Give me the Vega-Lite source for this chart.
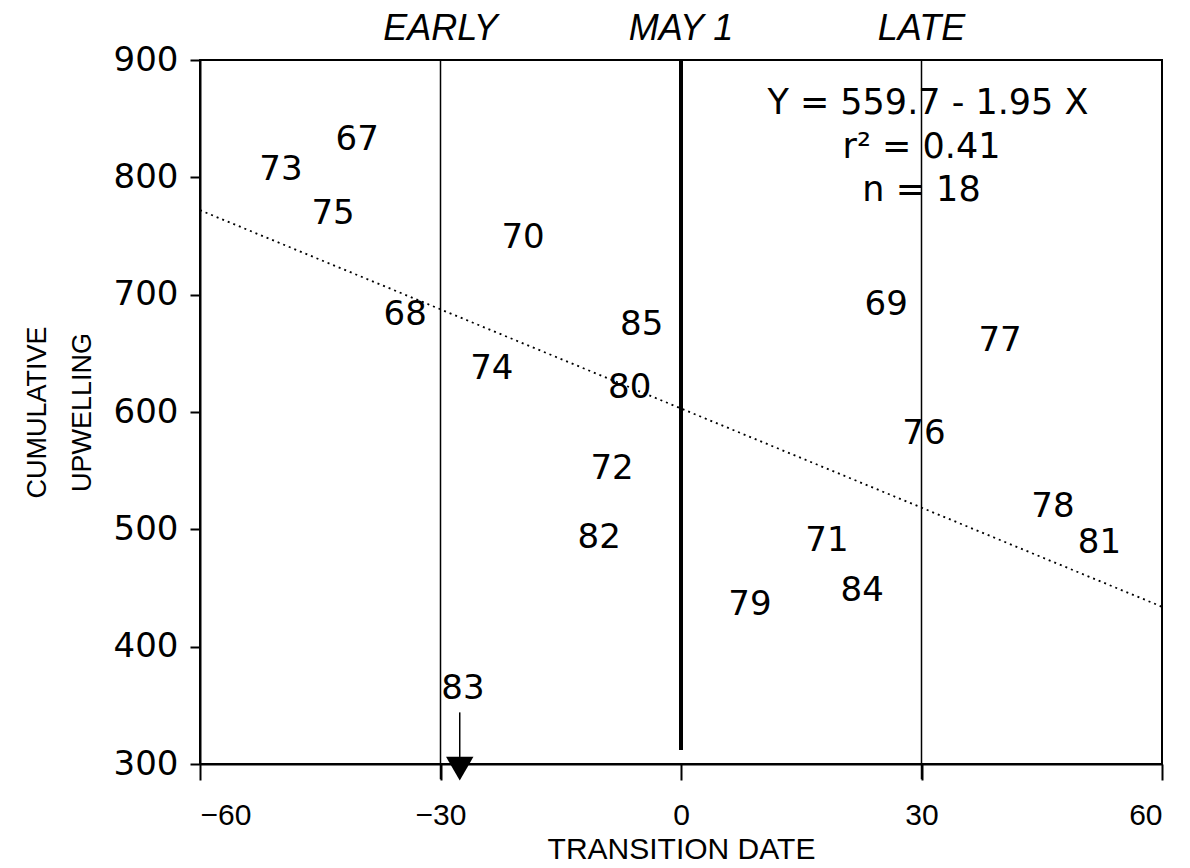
{
  "$schema": "https://vega.github.io/schema/vega-lite/v6.json",
  "width": 962,
  "height": 704,
  "autosize": {"type": "none"},
  "padding": {"left": 200, "top": 60, "right": 28, "bottom": 104},
  "background": "white",
  "config": {
    "view": {"stroke": "black", "strokeWidth": 2},
    "axis": {"grid": false, "domainColor": "black", "domainWidth": 2, "tickColor": "black", "tickWidth": 2, "labelColor": "black", "titleColor": "black", "titleFontWeight": "normal"}
  },
  "datasets": {
    "years": [
      {"x": -40.4, "y": 831.8, "label": "67"},
      {"x": -49.9, "y": 806.0, "label": "73"},
      {"x": -43.4, "y": 768.7, "label": "75"},
      {"x": -19.7, "y": 748.3, "label": "70"},
      {"x": -34.4, "y": 682.7, "label": "68"},
      {"x": -23.6, "y": 636.6, "label": "74"},
      {"x": -4.9, "y": 674.1, "label": "85"},
      {"x": -6.4, "y": 620.4, "label": "80"},
      {"x": -8.6, "y": 551.4, "label": "72"},
      {"x": -10.2, "y": 492.6, "label": "82"},
      {"x": 8.6, "y": 435.5, "label": "79"},
      {"x": 18.2, "y": 490.0, "label": "71"},
      {"x": 22.6, "y": 447.4, "label": "84"},
      {"x": 25.6, "y": 691.2, "label": "69"},
      {"x": 39.8, "y": 660.5, "label": "77"},
      {"x": 30.3, "y": 581.2, "label": "76"},
      {"x": 46.4, "y": 519.0, "label": "78"},
      {"x": 52.2, "y": 488.3, "label": "81"},
      {"x": -27.2, "y": 363.9, "label": "83"}
    ],
    "fit": [
      {"x": -60, "y": 772},
      {"x": 60, "y": 434}
    ],
    "vlines": [
      {"x": -30, "y": 900, "y2": 287, "w": 1.5},
      {"x": 0, "y": 900, "y2": 312, "w": 4},
      {"x": 30, "y": 900, "y2": 287, "w": 1.5}
    ],
    "arrow": [
      {"x": -27.6, "y": 344, "y2": 306}
    ],
    "arrowhead": [
      {"x": -27.6, "y": 296}
    ],
    "toplabels": [
      {"x": -30, "y": 926, "label": "EARLY"},
      {"x": 0, "y": 926, "label": "MAY 1"},
      {"x": 30, "y": 926, "label": "LATE"}
    ],
    "stats": [
      {"x": 30.8, "y": 863.4, "label": "Y = 559.7 - 1.95 X"},
      {"x": 30.0, "y": 826.0, "label": "r² = 0.41"},
      {"x": 30.0, "y": 789.2, "label": "n = 18"}
    ]
  },
  "layer": [
    {
      "data": {"name": "fit"},
      "mark": {"type": "line", "color": "black", "strokeWidth": 1.8, "strokeDash": [2, 4]},
      "encoding": {
        "x": {"field": "x", "type": "quantitative", "scale": {"domain": [-60, 60], "nice": false, "zero": false},
          "axis": {"values": [-60, -30, 0, 30, 60], "tickSize": 16, "labelPadding": 20, "labelFont": "Liberation Sans", "labelFontSize": 30, "title": "TRANSITION DATE", "titleFont": "Liberation Sans", "titleFontSize": 30, "titlePadding": 4}},
        "y": {"field": "y", "type": "quantitative", "scale": {"domain": [300, 900], "nice": false, "zero": false},
          "axis": {"values": [300, 400, 500, 600, 700, 800, 900], "tickSize": 10, "labelPadding": 12, "labelFont": "DejaVu Sans", "labelFontSize": 34, "title": ["CUMULATIVE", "UPWELLING"], "titleFont": "Liberation Sans", "titleFontSize": 27, "titleLineHeight": 45, "titlePadding": 17}}
      }
    },
    {
      "data": {"name": "vlines"},
      "mark": {"type": "rule", "color": "black"},
      "encoding": {
        "x": {"field": "x", "type": "quantitative"},
        "y": {"field": "y", "type": "quantitative"},
        "y2": {"field": "y2"},
        "strokeWidth": {"field": "w", "type": "quantitative", "scale": null}
      }
    },
    {
      "data": {"name": "arrow"},
      "mark": {"type": "rule", "color": "black", "strokeWidth": 1.5},
      "encoding": {
        "x": {"field": "x", "type": "quantitative"},
        "y": {"field": "y", "type": "quantitative"},
        "y2": {"field": "y2"}
      }
    },
    {
      "data": {"name": "arrowhead"},
      "mark": {"type": "point", "shape": "triangle-down", "filled": true, "color": "black", "opacity": 1, "size": 750},
      "encoding": {
        "x": {"field": "x", "type": "quantitative"},
        "y": {"field": "y", "type": "quantitative"}
      }
    },
    {
      "data": {"name": "years"},
      "mark": {"type": "text", "font": "DejaVu Sans", "fontSize": 34, "color": "black", "align": "center", "baseline": "middle"},
      "encoding": {
        "x": {"field": "x", "type": "quantitative"},
        "y": {"field": "y", "type": "quantitative"},
        "text": {"field": "label"}
      }
    },
    {
      "data": {"name": "toplabels"},
      "mark": {"type": "text", "font": "Liberation Sans", "fontStyle": "italic", "fontSize": 36, "color": "black", "align": "center", "baseline": "middle"},
      "encoding": {
        "x": {"field": "x", "type": "quantitative"},
        "y": {"field": "y", "type": "quantitative"},
        "text": {"field": "label"}
      }
    },
    {
      "data": {"name": "stats"},
      "mark": {"type": "text", "font": "DejaVu Sans", "fontSize": 35, "color": "black", "align": "center", "baseline": "middle"},
      "encoding": {
        "x": {"field": "x", "type": "quantitative"},
        "y": {"field": "y", "type": "quantitative"},
        "text": {"field": "label"}
      }
    }
  ]
}
